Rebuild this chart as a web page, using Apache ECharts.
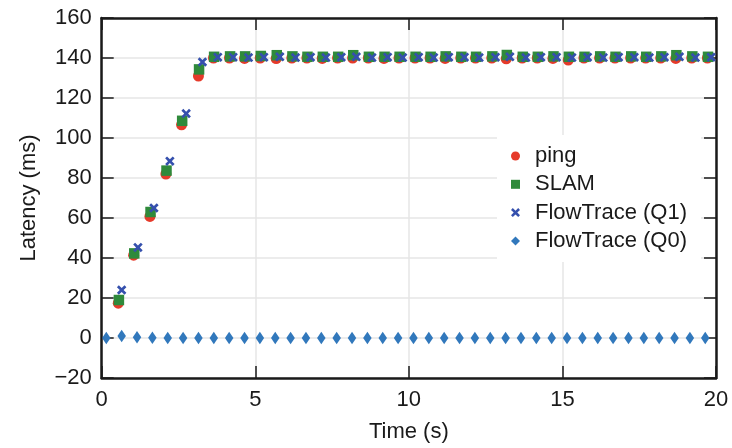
<!DOCTYPE html>
<html>
<head>
<meta charset="utf-8">
<script src="https://cdn.jsdelivr.net/npm/echarts@6/dist/echarts.min.js"></script>
<style>
html,body{margin:0;padding:0;background:#fff;}
#chart{width:732px;height:448px;}
</style>
</head>
<body>
<div id="chart"></div>
<script>
// ---- data ----
const seriesNames = ['ping', 'SLAM', 'FlowTrace (Q1)', 'FlowTrace (Q0)'];

const pingTime = [0.54, 1.04, 1.57, 2.09, 2.60, 3.15, 3.64, 4.16, 4.65, 5.16, 5.68, 6.19, 6.68, 7.18, 7.68, 8.17, 8.68, 9.19, 9.68, 10.20, 10.69, 11.18, 11.69, 12.17, 12.70, 13.17, 13.69, 14.18, 14.69, 15.19, 15.70, 16.21, 16.71, 17.22, 17.71, 18.20, 18.69, 19.21, 19.72];
const pingLatency = [17.4, 41.4, 60.8, 82.0, 106.6, 131.0, 140.0, 140.0, 139.8, 140.0, 139.7, 140.0, 140.0, 139.8, 140.0, 140.0, 140.0, 139.8, 140.0, 140.0, 140.0, 139.8, 140.0, 140.0, 140.0, 139.6, 140.0, 140.0, 139.8, 139.0, 140.0, 140.0, 140.0, 140.0, 140.0, 140.0, 139.8, 140.0, 140.0];

const slamTime = [0.56, 1.06, 1.59, 2.11, 2.62, 3.17, 3.66, 4.18, 4.67, 5.18, 5.70, 6.21, 6.70, 7.20, 7.70, 8.19, 8.70, 9.21, 9.70, 10.22, 10.71, 11.20, 11.71, 12.19, 12.72, 13.19, 13.71, 14.20, 14.71, 15.21, 15.72, 16.23, 16.73, 17.24, 17.73, 18.22, 18.71, 19.23, 19.74];
const slamLatency = [19.0, 42.3, 63.0, 83.7, 108.6, 134.3, 140.6, 140.8, 140.8, 141.0, 141.4, 140.8, 140.6, 140.6, 140.6, 141.4, 140.6, 140.6, 140.6, 140.6, 140.6, 140.8, 140.6, 140.6, 140.8, 141.5, 140.6, 140.6, 140.8, 140.6, 140.6, 140.8, 140.6, 140.8, 140.6, 140.8, 141.4, 140.8, 140.6];

const q1Time = [0.65, 1.18, 1.70, 2.22, 2.75, 3.28, 3.78, 4.28, 4.78, 5.28, 5.80, 6.31, 6.80, 7.30, 7.80, 8.29, 8.80, 9.31, 9.80, 10.32, 10.81, 11.30, 11.81, 12.29, 12.82, 13.29, 13.81, 14.30, 14.81, 15.31, 15.82, 16.33, 16.83, 17.34, 17.83, 18.32, 18.81, 19.33, 19.84];
const q1Latency = [24.0, 45.3, 65.0, 88.4, 112.2, 138.0, 140.4, 140.4, 140.2, 140.4, 140.6, 140.2, 140.4, 140.2, 140.4, 140.6, 140.2, 140.4, 140.2, 140.4, 140.2, 140.4, 140.4, 140.2, 140.4, 140.6, 140.2, 140.4, 140.4, 140.2, 140.4, 140.2, 140.4, 140.4, 140.2, 140.4, 140.6, 140.2, 140.4];

const q0Time = [0.15, 0.65, 1.15, 1.65, 2.15, 2.65, 3.15, 3.65, 4.15, 4.65, 5.15, 5.65, 6.15, 6.65, 7.15, 7.65, 8.15, 8.65, 9.15, 9.65, 10.15, 10.65, 11.15, 11.65, 12.15, 12.65, 13.15, 13.65, 14.15, 14.65, 15.15, 15.65, 16.15, 16.65, 17.15, 17.65, 18.15, 18.65, 19.15, 19.65];
const q0Latency = [0.0, 1.0, 0.4, 0.1, 0.0, 0.0, 0.0, 0.0, 0.0, 0.0, 0.0, 0.0, 0.0, 0.0, 0.0, 0.0, 0.0, 0.0, 0.0, 0.0, 0.0, 0.0, 0.0, 0.0, 0.0, 0.0, 0.0, 0.0, 0.0, 0.0, 0.0, 0.0, 0.0, 0.0, 0.0, 0.0, 0.0, 0.0, 0.0, 0.0];

const xTicks = [0, 5, 10, 15, 20];
const yTicks = [-20, 0, 20, 40, 60, 80, 100, 120, 140, 160];

// ---- chart ----
const pair = (xs, ys) => xs.map((x, i) => [x, ys[i]]);
const FONT = "'Liberation Sans', Arial, Helvetica, sans-serif";
const TXT = '#1a1a1a';
const AX = '#1a1a1a';
const xPath = 'path://M2,0 L5,3 L8,0 L10,2 L7,5 L10,8 L8,10 L5,7 L2,10 L0,8 L3,5 L0,2 Z';

const baseAxisLine = { show: true, onZero: false, lineStyle: { color: AX, width: 2.5 } };
const baseTick = { show: true, inside: true, length: 12, lineStyle: { color: AX, width: 1.5 } };

const chart = echarts.init(document.getElementById('chart'), null, { renderer: 'canvas' });
chart.setOption({
  animation: false,
  backgroundColor: '#fff',
  textStyle: { fontFamily: FONT },
  grid: { left: 101.7, right: 16, top: 18, bottom: 69 },
  legend: {
    orient: 'vertical',
    left: 497,
    top: 135,
    padding: [10, 14, 10, 14],
    backgroundColor: '#fff',
    itemWidth: 9,
    itemHeight: 9,
    itemGap: 6.3,
    textStyle: { fontFamily: FONT, fontSize: 22, color: TXT, padding: [0, 0, 0, 10] },
    data: seriesNames
  },
  xAxis: [
    {
      type: 'value', position: 'bottom',
      min: xTicks[0], max: xTicks[xTicks.length - 1], interval: 5,
      name: 'Time (s)', nameLocation: 'middle', nameGap: 43,
      nameTextStyle: { fontFamily: FONT, fontSize: 22, color: TXT },
      axisLine: baseAxisLine, axisTick: baseTick,
      axisLabel: { fontFamily: FONT, fontSize: 22, color: TXT, margin: 11 },
      splitLine: { show: true, lineStyle: { color: '#e6e6e6', width: 1.5 } }
    },
    {
      type: 'value', position: 'top',
      min: xTicks[0], max: xTicks[xTicks.length - 1], interval: 5,
      axisLine: baseAxisLine, axisTick: baseTick,
      axisLabel: { show: false }, splitLine: { show: false }
    }
  ],
  yAxis: [
    {
      type: 'value', position: 'left',
      min: yTicks[0], max: yTicks[yTicks.length - 1], interval: 20,
      name: 'Latency (ms)', nameLocation: 'middle', nameGap: 62,
      nameTextStyle: { fontFamily: FONT, fontSize: 22, color: TXT },
      axisLine: baseAxisLine, axisTick: baseTick,
      axisLabel: { fontFamily: FONT, fontSize: 22, color: TXT, margin: 10,
        formatter: v => String(v).replace('-', '\u2212') },
      splitLine: { show: true, lineStyle: { color: '#e6e6e6', width: 1.5 } }
    },
    {
      type: 'value', position: 'right',
      min: yTicks[0], max: yTicks[yTicks.length - 1], interval: 20,
      axisLine: baseAxisLine, axisTick: baseTick,
      axisLabel: { show: false }, splitLine: { show: false }
    }
  ],
  series: [
    { name: seriesNames[0], type: 'scatter', symbol: 'circle', symbolSize: 11,
      itemStyle: { color: '#e63a2a', opacity: 1 }, data: pair(pingTime, pingLatency), z: 2 },
    { name: seriesNames[1], type: 'scatter', symbol: 'rect', symbolSize: 10.5,
      itemStyle: { color: '#2f8a3b', opacity: 1 }, data: pair(slamTime, slamLatency), z: 3 },
    { name: seriesNames[2], type: 'scatter', symbol: xPath, symbolSize: 9.5,
      itemStyle: { color: '#3550ad', opacity: 1 }, data: pair(q1Time, q1Latency), z: 4 },
    { name: seriesNames[3], type: 'scatter', symbol: 'diamond', symbolSize: [8.5, 12.5],
      itemStyle: { color: '#3178bc', opacity: 1 }, data: pair(q0Time, q0Latency), z: 4 }
  ]
});
</script>
</body>
</html>
